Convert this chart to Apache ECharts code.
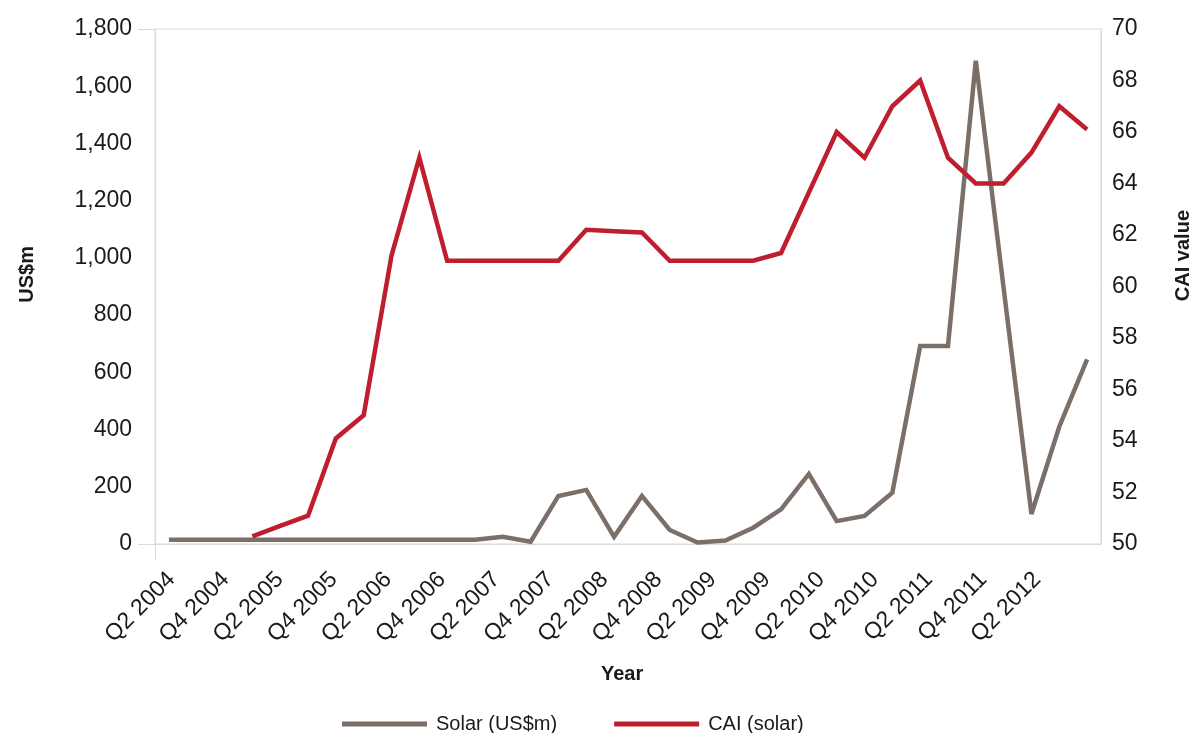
<!DOCTYPE html>
<html>
<head>
<meta charset="utf-8">
<title>Solar investment and CAI</title>
<script src="https://cdn.jsdelivr.net/npm/echarts@6/dist/echarts.min.js"></script>
<style>
  html, body { margin: 0; padding: 0; background: #ffffff; }
  #chart { width: 1200px; height: 733px; }
</style>
</head>
<body>
<div id="chart"></div>
<script>
// Quarterly categories, Q2 2004 to Q3 2012
const quarters = [
  'Q2 2004', 'Q3 2004', 'Q4 2004', 'Q1 2005', 'Q2 2005', 'Q3 2005', 'Q4 2005', 'Q1 2006',
  'Q2 2006', 'Q3 2006', 'Q4 2006', 'Q1 2007', 'Q2 2007', 'Q3 2007', 'Q4 2007', 'Q1 2008',
  'Q2 2008', 'Q3 2008', 'Q4 2008', 'Q1 2009', 'Q2 2009', 'Q3 2009', 'Q4 2009', 'Q1 2010',
  'Q2 2010', 'Q3 2010', 'Q4 2010', 'Q1 2011', 'Q2 2011', 'Q3 2011', 'Q4 2011', 'Q1 2012',
  'Q2 2012', 'Q3 2012'
];

// Solar investment, US$m (left axis)
const solarUsdM = [
  15, 15, 15, 15, 15, 15, 15, 15, 15, 15, 15, 15,
  25, 8, 168, 189, 25, 168, 49, 5, 12, 57, 121, 245,
  80, 98, 179, 692, 692, 1689, 895, 105, 410, 645
];

// CAI value for solar (right axis); no reading before Q1 2005
const caiSolar = [
  null, null, null, 50.3, 50.7, 51.1, 54.1, 55.0, 61.2, 65.0, 61.0, 61.0,
  61.0, 61.0, 61.0, 62.2, 62.15, 62.1, 61.0, 61.0, 61.0, 61.0, 61.3, 63.65,
  66.0, 65.0, 67.0, 68.0, 65.0, 64.0, 64.0, 65.2, 67.0, 66.1
];

// Axis ranges
const leftAxisRange = { min: 0, max: 1800, step: 200 };
const rightAxisRange = { min: 50, max: 70, step: 2 };

const FONT = '"Liberation Sans", Arial, sans-serif';
const AXIS_GREY = '#d9d9d9';
const TEXT = '#1a1a1a';
const SOLAR_COLOR = '#7b6f69';
const CAI_COLOR = '#be1e2d';
const TICK_SIZE = 23;

const PLOT = { left: 155, right: 99, top: 29, bottom: 189 };
const W = 1200, H = 733;
const plotLeftX = PLOT.left;
const plotTopY = PLOT.top;
const plotBottomY = H - PLOT.bottom;

const chart = echarts.init(document.getElementById('chart'), null, { renderer: 'canvas' });

chart.setOption({
  backgroundColor: '#ffffff',
  animation: false,
  textStyle: { fontFamily: FONT },
  grid: [
    // plotting area
    {
      left: PLOT.left, right: PLOT.right, top: PLOT.top, bottom: PLOT.bottom,
      show: true, borderColor: AXIS_GREY, borderWidth: 1, backgroundColor: 'transparent'
    },
    // band that carries the quarter labels under the plot
    { left: 158, right: 122, top: PLOT.top, bottom: PLOT.bottom, show: false }
  ],
  legend: {
    left: 337, top: 709,
    itemWidth: 85, itemHeight: 5, itemGap: 57,
    icon: 'rect',
    textStyle: { fontFamily: FONT, fontSize: 20, color: TEXT, padding: [0, 0, 0, 4] },
    data: ['Solar (US$m)', 'CAI (solar)']
  },
  xAxis: [
    {
      type: 'category',
      gridIndex: 0,
      data: quarters,
      boundaryGap: true,
      axisLine: { show: true, lineStyle: { color: AXIS_GREY, width: 1 } },
      axisTick: { show: false },
      axisLabel: { show: false },
      splitLine: { show: false }
    },
    {
      type: 'category',
      gridIndex: 1,
      data: quarters,
      boundaryGap: true,
      axisLine: { show: false },
      axisTick: { show: false },
      axisLabel: {
        interval: 1, rotate: 45, fontSize: TICK_SIZE, color: TEXT, fontFamily: FONT, margin: 32
      },
      splitLine: { show: false }
    }
  ],
  yAxis: [
    {
      type: 'value',
      gridIndex: 0,
      position: 'left',
      min: leftAxisRange.min, max: leftAxisRange.max, interval: leftAxisRange.step,
      axisLine: { show: true, lineStyle: { color: AXIS_GREY, width: 1 } },
      axisTick: { show: false },
      splitLine: { show: false },
      axisLabel: {
        fontSize: TICK_SIZE, color: TEXT, fontFamily: FONT, margin: 23,
        formatter: v => v.toLocaleString('en-US')
      }
    },
    {
      type: 'value',
      gridIndex: 0,
      position: 'right',
      min: rightAxisRange.min, max: rightAxisRange.max, interval: rightAxisRange.step,
      axisLine: { show: true, lineStyle: { color: AXIS_GREY, width: 1 } },
      axisTick: { show: false },
      splitLine: { show: false },
      axisLabel: { fontSize: TICK_SIZE, color: TEXT, fontFamily: FONT, margin: 11 }
    },
    {
      type: 'value',
      gridIndex: 1,
      min: 0, max: 1,
      show: false
    }
  ],
  graphic: [
    // short frame stubs outside the plot's lower-left and upper-left corners
    {
      type: 'line', silent: true,
      shape: { x1: plotLeftX - 17, y1: plotTopY + 0.5, x2: plotLeftX, y2: plotTopY + 0.5 },
      style: { stroke: AXIS_GREY, lineWidth: 1 }
    },
    {
      type: 'line', silent: true,
      shape: { x1: plotLeftX - 17, y1: plotBottomY + 0.5, x2: plotLeftX, y2: plotBottomY + 0.5 },
      style: { stroke: AXIS_GREY, lineWidth: 1 }
    },
    {
      type: 'line', silent: true,
      shape: { x1: plotLeftX + 0.5, y1: plotBottomY, x2: plotLeftX + 0.5, y2: plotBottomY + 16 },
      style: { stroke: AXIS_GREY, lineWidth: 1 }
    },
    {
      type: 'text', left: 17, top: 246, rotation: Math.PI / 2,
      style: { text: 'US$m', font: 'bold 20px ' + FONT, fill: TEXT }
    },
    {
      type: 'text', left: 1173, top: 210, rotation: Math.PI / 2,
      style: { text: 'CAI value', font: 'bold 20px ' + FONT, fill: TEXT }
    },
    {
      type: 'text', left: 601, top: 664,
      style: { text: 'Year', font: 'bold 20px ' + FONT, fill: TEXT }
    }
  ],
  series: [
    {
      name: 'Solar (US$m)',
      type: 'line',
      xAxisIndex: 0,
      yAxisIndex: 0,
      data: solarUsdM,
      showSymbol: false,
      symbol: 'none',
      color: SOLAR_COLOR,
      lineStyle: { color: SOLAR_COLOR, width: 4.5, join: 'miter', miterLimit: 4 },
      z: 2
    },
    {
      name: 'CAI (solar)',
      type: 'line',
      xAxisIndex: 0,
      yAxisIndex: 1,
      data: caiSolar,
      showSymbol: false,
      symbol: 'none',
      connectNulls: false,
      color: CAI_COLOR,
      lineStyle: { color: CAI_COLOR, width: 4.5, join: 'miter' },
      z: 3
    }
  ]
});
</script>
</body>
</html>
